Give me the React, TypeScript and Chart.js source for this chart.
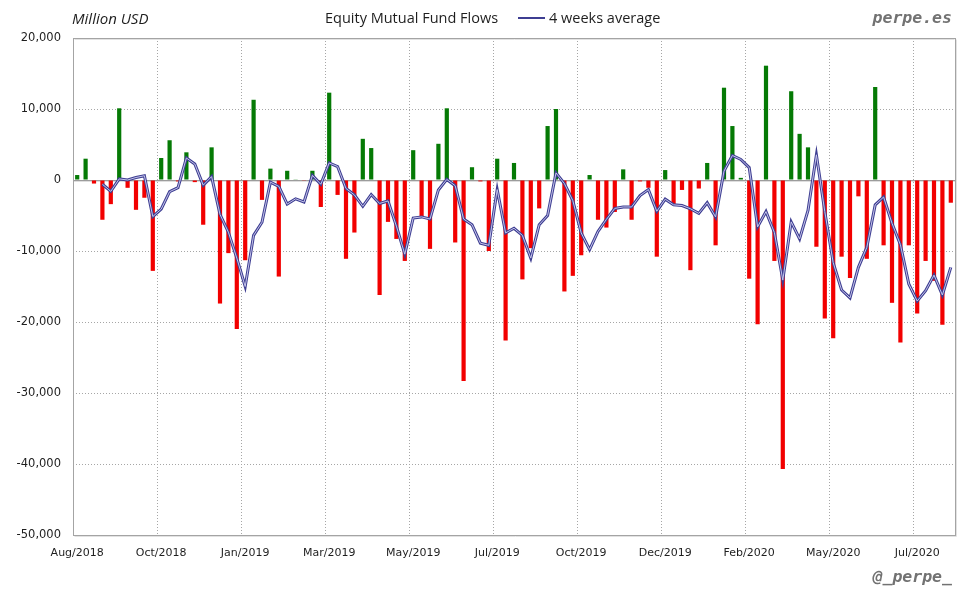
import React, { useEffect, useRef } from 'react';
import { Chart, registerables } from 'chart.js';

Chart.register(...registerables);

// Tick labels shown every 10 weeks along the x axis
const tickLabels = ['Aug/2018', 'Oct/2018', 'Jan/2019', 'Mar/2019', 'May/2019', 'Jul/2019', 'Oct/2019', 'Dec/2019', 'Feb/2020', 'May/2020', 'Jul/2020'];
const weeksPerTick = 10;

// Weekly equity mutual fund flows, million USD
const flows = [
  700, 3000, -500, -5600, -3400, 10100, -1100, -4200, -2500, -12800,
  3100, 5600, -200, 3900, -300, -6300, 4600, -17400, -10300, -21000,
  -11300, 11300, -2800, 1600, -13600, 1300, 100, -100, 1300, -3800,
  12300, -2100, -11100, -7400, 5800, 4500, -16200, -5900, -8300, -11400,
  4200, -5200, -9700, 5100, 10100, -8800, -28300, 1800, -200, -10000,
  3000, -22600, 2400, -14000, -9600, -4000, 7600, 10000, -15700, -13500,
  -10600, 700, -5600, -6700, -4500, 1500, -5600, -200, -1100, -10800,
  1400, -3500, -1400, -12700, -1200, 2400, -9200, 13000, 7600, 300,
  -13900, -20300, 16100, -11400, -40700, 12500, 6500, 4600, -9400, -19500,
  -22300, -10800, -13800, -2300, -11100, 13100, -9200, -17300, -22900, -9200,
  -18800, -11400, -14200, -20400, -3200,
];

// 4 weeks average line, million USD
const avg4w = [
  null, null, null, -600, -1600, 150, 0, 350, 600, -5150,
  -4100, -1650, -1080, 3100, 2250, -730, 480, -4850, -7350, -11000,
  -15000, -7800, -5950, -300, -900, -3400, -2650, -3100, 650, -600,
  2400, 1900, -1200, -2100, -3700, -2050, -3300, -2950, -6500, -10450,
  -5350, -5200, -5500, -1400, 80, -800, -5500, -6300, -8900, -9200,
  -1350, -7450, -6800, -7800, -11000, -6300, -5000, 1000, -500, -2900,
  -7450, -9800, -7250, -5550, -4000, -3800, -3800, -2200, -1350, -4400,
  -2700, -3500, -3600, -4050, -4700, -3200, -5200, 1250, 3450, 2900,
  1750, -6600, -4450, -7400, -14100, -5900, -8300, -4300, 3550, -4450,
  -11650, -15500, -16600, -12300, -9500, -3500, -2400, -6100, -9100, -14650,
  -17050, -15600, -13400, -16200, -12300,
];

const yMin = -50000;
const yMax = 20000;
const yStep = 10000;

const GREEN = '#057a05';
const RED = '#f20000';
const NAVY = '#3e3e92';
const NAVY_INNER = '#c4c4ea';
const GRID = '#a6a6a6';

const categories = flows.map((_, i) => (i % weeksPerTick === 0 ? tickLabels[i / weeksPerTick] : ''));

const framePlugin = {
  id: 'frame',
  beforeDatasetsDraw(chart: any) {
    const { ctx, chartArea: a, scales } = chart;
    const y0 = Math.round(scales.y.getPixelForValue(0)) + 0.5;
    ctx.save();
    ctx.lineWidth = 1;
    ctx.strokeStyle = '#dedede';
    ctx.beginPath();
    ctx.moveTo(a.left, y0 + 1);
    ctx.lineTo(a.right, y0 + 1);
    ctx.stroke();
    ctx.strokeStyle = '#9c9c9c';
    ctx.beginPath();
    ctx.moveTo(a.left, y0);
    ctx.lineTo(a.right, y0);
    ctx.stroke();
    ctx.restore();
  },
  afterDraw(chart: any) {
    const { ctx, chartArea: a } = chart;
    ctx.save();
    const l = Math.round(a.left) + 0.5;
    const r = Math.round(a.right) + 0.5;
    const t = Math.round(a.top) + 0.5;
    const b = Math.round(a.bottom) + 0.5;
    ctx.lineWidth = 1;
    ctx.strokeStyle = '#e2e2e2';
    ctx.beginPath();
    ctx.moveTo(l + 1, t + 1);
    ctx.lineTo(r - 1, t + 1);
    ctx.moveTo(r + 1, t + 1);
    ctx.lineTo(r + 1, b + 1);
    ctx.lineTo(l + 1, b + 1);
    ctx.stroke();
    ctx.strokeStyle = '#a4a4a4';
    ctx.strokeRect(l, t, r - l, b - t);
    ctx.restore();
  },
};

export default function App() {
  const canvasRef = useRef<HTMLCanvasElement | null>(null);

  useEffect(() => {
    document.body.style.margin = '0';
    const canvas = canvasRef.current;
    if (!canvas) return;
    Chart.defaults.font.family = "'DejaVu Sans', sans-serif";
    Chart.defaults.font.size = 11;
    Chart.defaults.color = '#1e1e1e';

    const chart = new Chart(canvas, {
      type: 'bar',
      data: {
        labels: categories,
        datasets: [
          {
            type: 'line',
            label: '4 weeks average',
            data: avg4w,
            borderColor: NAVY_INNER,
            borderWidth: 1,
            pointRadius: 0,
            tension: 0,
            fill: false,
            order: 1,
          } as any,
          {
            type: 'line',
            label: '4 weeks average outer',
            data: avg4w,
            borderColor: NAVY,
            borderWidth: 3,
            pointRadius: 0,
            tension: 0,
            fill: false,
            order: 2,
          } as any,
          {
            type: 'bar',
            label: 'Equity Mutual Fund Flows',
            data: flows,
            backgroundColor: flows.map((v) => (v >= 0 ? GREEN : RED)),
            borderWidth: 0,
            categoryPercentage: 1,
            barPercentage: 0.5,
            order: 3,
          } as any,
        ],
      },
      options: {
        responsive: false,
        animation: false,
        events: [],
        layout: { padding: { left: 0, top: 38, right: 25, bottom: 35 } },
        plugins: {
          legend: { display: false },
          tooltip: { enabled: false },
        },
        scales: {
          x: {
            offset: true,
            grid: {
              offset: true,
              drawTicks: false,
              color: (ctx: any) => (ctx.index % weeksPerTick === 0 ? GRID : 'rgba(0,0,0,0)'),
            },
            border: { display: false, dash: [1, 2] },
            ticks: {
              autoSkip: false,
              maxRotation: 0,
              minRotation: 0,
              padding: 12,
              font: { size: 11 },
              callback: (_v: any, i: number) => categories[i],
            },
            afterFit: (scale: any) => {
              scale.height = 30;
            },
          },
          y: {
            min: yMin,
            max: yMax,
            grid: { drawTicks: false, color: GRID },
            border: { display: false, dash: [1, 2] },
            ticks: {
              stepSize: yStep,
              padding: 12,
              font: { size: 11.5 },
              callback: (v: any) => Number(v).toLocaleString('en-US'),
            },
            afterFit: (scale: any) => {
              scale.width = 73;
            },
          },
        },
      },
      plugins: [framePlugin],
    } as any);

    return () => {
      chart.destroy();
    };
  }, []);

  const headerFont = "'Open Sans', sans-serif";
  const text: React.CSSProperties = {
    position: 'absolute',
    fontFamily: headerFont,
    fontSize: 14.5,
    lineHeight: '18px',
    color: '#1e1e1e',
    whiteSpace: 'nowrap',
  };
  const brand: React.CSSProperties = {
    position: 'absolute',
    fontFamily: "'DejaVu Sans Mono', monospace",
    fontWeight: 'bold',
    fontStyle: 'oblique',
    fontSize: 16.5,
    lineHeight: '20px',
    color: '#727272',
    whiteSpace: 'nowrap',
    textAlign: 'right',
  };

  return (
    <div style={{ position: 'absolute', left: 0, top: 0, width: 980, height: 600, background: '#ffffff', overflow: 'hidden' }}>
      <canvas ref={canvasRef} width={980} height={600} style={{ display: 'block', width: 980, height: 600 }} />
      <div style={{ ...text, left: 72, top: 9, fontStyle: 'italic', fontSize: 15 }}>Million USD</div>
      <div style={{ ...text, left: 325, top: 9 }}>Equity Mutual Fund Flows</div>
      <div style={{ position: 'absolute', left: 518, top: 17, width: 27, height: 2, background: NAVY }} />
      <div style={{ ...text, left: 549, top: 9 }}>4 weeks average</div>
      <div style={{ ...brand, right: 28, top: 8 }}>perpe.es</div>
      <div style={{ ...brand, right: 28, top: 567 }}>@_perpe_</div>
    </div>
  );
}
